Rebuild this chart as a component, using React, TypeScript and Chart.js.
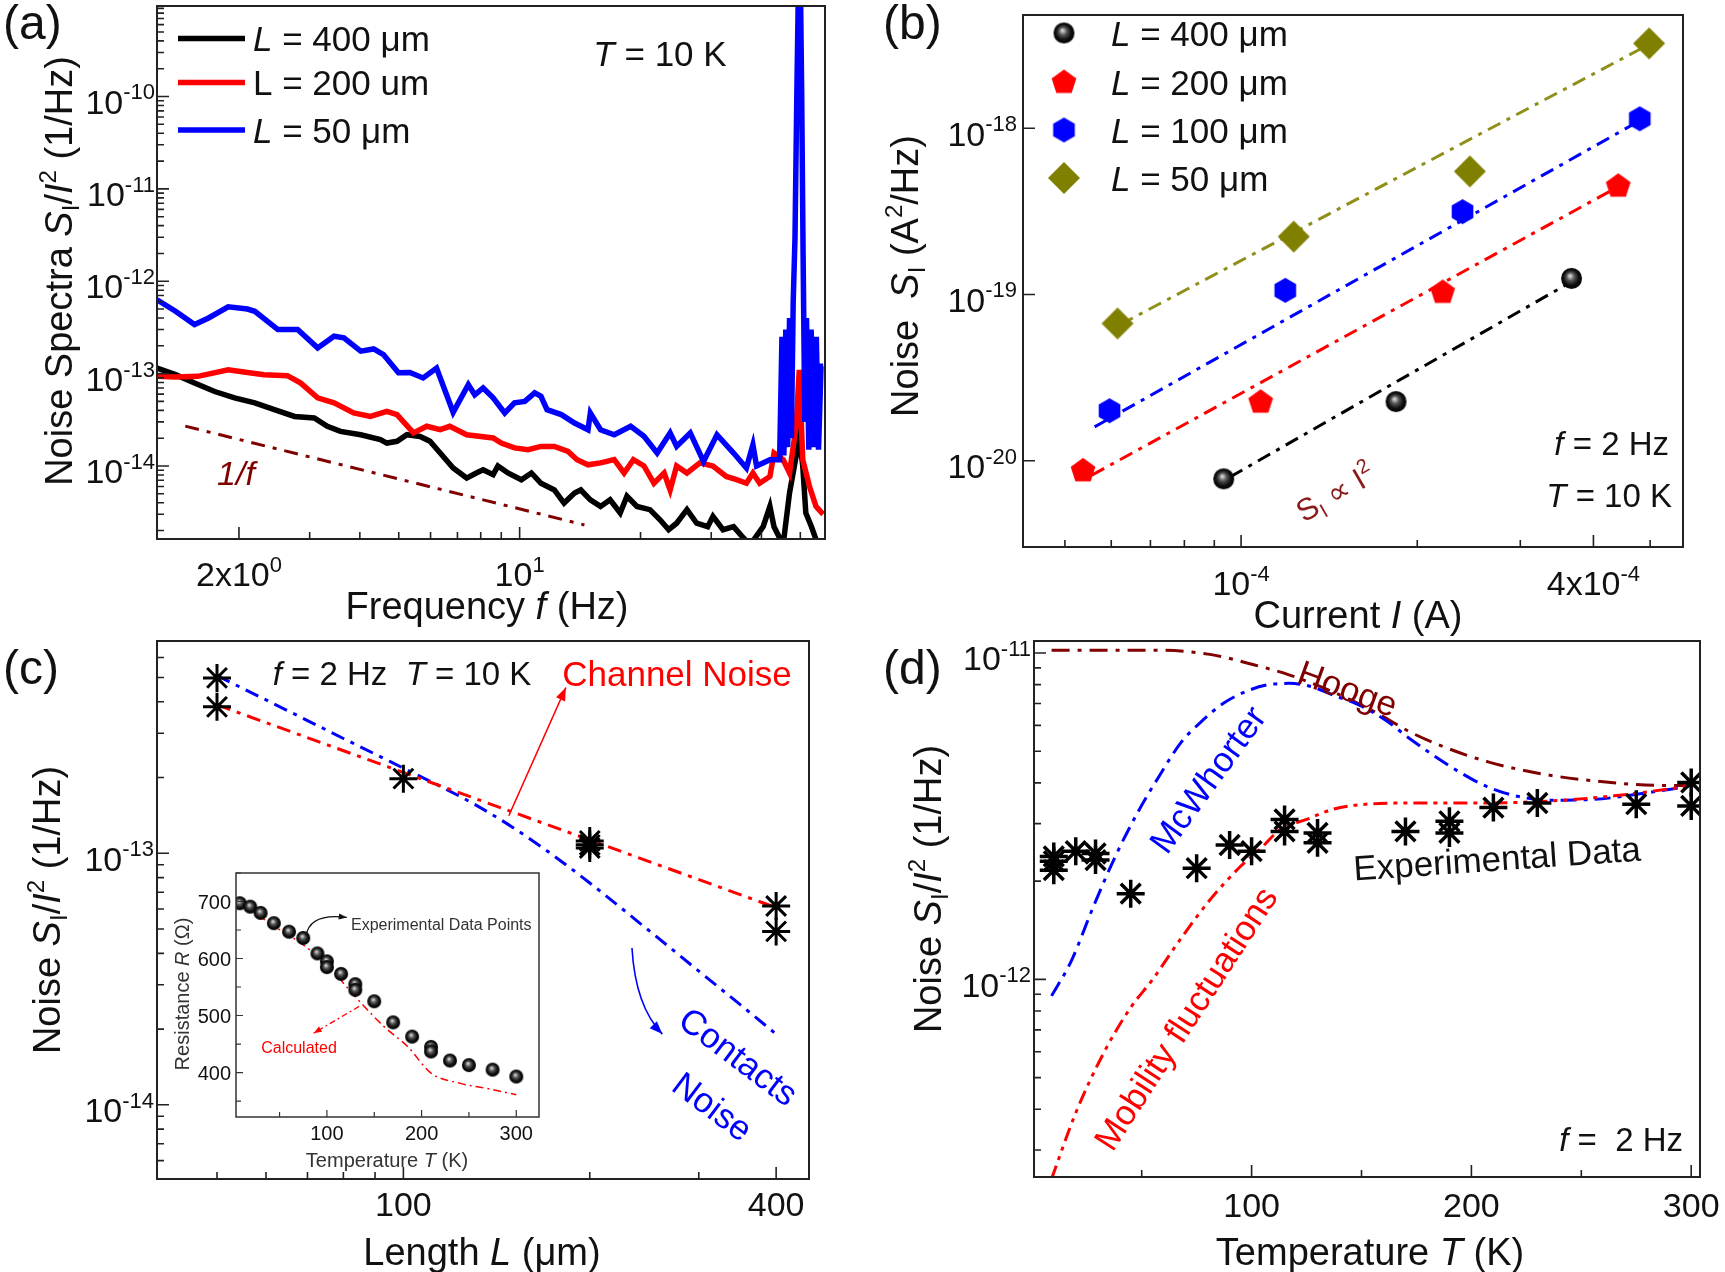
import React, { useEffect, useRef } from 'react';
import { Chart, registerables } from 'chart.js';

Chart.register(...registerables);

const W = 1725;
const H = 1272;
const FONT = '"Liberation Sans", Arial, Helvetica, sans-serif';

// ================= Panel (a): noise spectra =================
const aFreq400 = [
  1.25, 1.39, 1.55, 1.74, 1.95, 2.19, 2.45, 2.75, 3.08, 3.32,
  3.58, 4.02, 4.5, 4.67, 4.95, 5.24, 5.65, 5.98, 6.34, 6.83,
  7.38, 7.8, 8.11, 8.59, 8.83, 9.35, 10.1, 10.7, 11.3, 12.2,
  12.9, 13.7, 14.2, 15.0, 15.9, 16.8, 17.8, 18.5, 19.6, 21.1,
  22.4, 23.5, 24.6, 26.1, 27.6, 29.4, 30.3, 32.1, 34.1, 36.1,
  37.5, 40.4, 42.0, 43.0, 45.3, 47.0, 48.8, 49.7, 50.7, 51.6,
  53.3, 55.0, 57.0,
];
const aNoise400 = [
  1.15e-13, 9.75e-14, 7.9e-14, 6.4e-14, 5.46e-14, 4.82e-14, 4.07e-14, 3.44e-14, 3.31e-14, 2.69e-14,
  2.37e-14, 2.18e-14, 1.93e-14, 1.77e-14, 1.85e-14, 2.18e-14, 2.09e-14, 1.85e-14, 1.38e-14, 9.5e-15,
  7.4e-15, 8.4e-15, 9.1e-15, 8.05e-15, 1.0e-14, 8.4e-15, 7.1e-15, 8.4e-15, 6.5e-15, 5.5e-15,
  3.97e-15, 5.1e-15, 5.5e-15, 4.3e-15, 3.65e-15, 4.3e-15, 3.1e-15, 4.7e-15, 3.65e-15, 3.37e-15,
  2.6e-15, 2.04e-15, 2.4e-15, 3.37e-15, 2.4e-15, 2.2e-15, 2.85e-15, 2.04e-15, 2.2e-15, 1.66e-15,
  1.4e-15, 2.2e-15, 3.65e-15, 2.2e-15, 1.4e-15, 5.1e-15, 1.27e-14, 2.1e-14, 1.0e-14, 3.1e-15,
  2.2e-15, 1.5e-15, 1.2e-15,
];
const aFreq200 = [
  1.25, 1.39, 1.58, 1.88, 2.1, 2.31, 2.64, 2.85, 3.14, 3.45,
  3.86, 4.25, 4.67, 4.95, 5.44, 5.87, 6.34, 6.7, 7.38, 8.59,
  9.0, 9.71, 10.5, 11.3, 12.2, 13.2, 13.9, 14.8, 15.9, 17.2,
  18.2, 19.2, 20.4, 21.6, 22.9, 23.7, 24.6, 26.1, 28.1, 30.3,
  32.7, 34.7, 36.7, 38.1, 39.6, 42.0, 43.0, 45.3, 47.0, 48.8,
  49.7, 50.7, 52.7, 54.7, 57.0,
];
const aNoise200 = [
  9.35e-14, 9.2e-14, 9.35e-14, 1.1e-13, 1.03e-13, 9.75e-14, 9.5e-14, 7.9e-14, 5.46e-14, 4.82e-14,
  3.75e-14, 3.44e-14, 3.91e-14, 3.6e-14, 2.28e-14, 2.69e-14, 2.47e-14, 2.69e-14, 2.18e-14, 2.01e-14,
  1.77e-14, 1.57e-14, 1.5e-14, 1.63e-14, 1.63e-14, 1.44e-14, 1.17e-14, 1.03e-14, 1.08e-14, 1.17e-14,
  8.4e-15, 1.17e-14, 1.0e-14, 6.5e-15, 8.4e-15, 5.5e-15, 1.0e-14, 8.4e-15, 1.08e-14, 1.0e-14,
  7.7e-15, 7.1e-15, 6.5e-15, 8.4e-15, 6.5e-15, 7.7e-15, 1.38e-14, 1.17e-14, 8.4e-15, 2.69e-14,
  1.1e-13, 1.17e-14, 6.0e-15, 3.65e-15, 3.0e-15,
];
const aFreq50 = [
  1.25, 1.39, 1.55, 1.68, 1.88, 2.1, 2.19, 2.5, 2.8, 3.14,
  3.45, 3.65, 4.02, 4.33, 4.58, 4.99, 5.33, 5.75, 6.21, 6.83,
  7.45, 7.73, 8.11, 8.59, 9.18, 9.71, 10.3, 10.9, 11.3, 11.7,
  12.7, 13.7, 14.8, 15.0, 15.9, 17.2, 18.9, 20.4, 22.0, 23.7,
  24.6, 26.6, 28.7, 31.0, 34.1, 36.7, 38.1, 38.9, 42.0, 44.4,
  45.0, 45.5, 46.0, 46.5, 47.0, 47.5, 48.0, 48.5, 49.0, 49.5,
  50.0, 50.4, 50.8, 51.3, 51.8, 52.5, 53.2, 54.0, 54.8, 55.5,
  56.3, 57.0,
];
const aNoise50 = [
  6.3e-13, 4.73e-13, 3.4e-13, 4.0e-13, 5.28e-13, 5.0e-13, 4.73e-13, 3.0e-13, 3.0e-13, 1.9e-13,
  2.54e-13, 2.44e-13, 1.75e-13, 1.85e-13, 1.61e-13, 1.02e-13, 1.03e-13, 8.97e-14, 1.15e-13, 3.81e-14,
  7.6e-14, 5.9e-14, 7.0e-14, 5.46e-14, 3.75e-14, 4.82e-14, 5.0e-14, 6.18e-14, 5.68e-14, 4.07e-14,
  3.6e-14, 2.92e-14, 2.47e-14, 3.75e-14, 2.47e-14, 2.18e-14, 2.69e-14, 2.1e-14, 1.38e-14, 2.28e-14,
  1.63e-14, 2.28e-14, 1.12e-14, 2.18e-14, 1.38e-14, 9.5e-15, 1.7e-14, 1.0e-14, 1.17e-14, 1.17e-14,
  2.5e-13, 1.3e-14, 3.0e-13, 1.6e-14, 4.0e-13, 2.0e-14, 6.0e-13, 3.0e-12, 1.0e-10, 2.0e-9,
  2.0e-9, 1.0e-10, 2.0e-12, 3.0e-14, 4.0e-13, 1.5e-14, 3.0e-13, 1.6e-14, 2.5e-13, 1.5e-14,
  1.2e-13, 1.2e-13,
];
const aGuideFreq = [1.47, 14.5];
const aGuideNoise = [2.7e-14, 2.3e-15];
const aXRange = [1.25, 57.6];
const aYRange = [1.62e-15, 9.55e-10];
const aXMajor = [2, 10];
const aXMinor = [3, 4, 5, 6, 7, 8, 9, 20, 30, 40, 50];
const aXLabelVals = [2, 10];
const aXLabelTxt = [['2x10', '0'], ['10', '1']];
const aYMajor = [1e-14, 1e-13, 1e-12, 1e-11, 1e-10];
const aYLabelTxt = [['10', '-14'], ['10', '-13'], ['10', '-12'], ['10', '-11'], ['10', '-10']];

// ================= Panel (b): noise vs current =================
const bCurrent400 = [9.34e-5, 1.84e-4, 3.67e-4];
const bNoise400 = [7.79e-21, 2.27e-20, 1.25e-19];
const bCurrent200 = [5.37e-5, 1.08e-4, 2.21e-4, 4.41e-4];
const bNoise200 = [8.7e-21, 2.25e-20, 1.03e-19, 4.48e-19];
const bCurrent100 = [5.96e-5, 1.19e-4, 2.39e-4, 4.8e-4];
const bNoise100 = [2.0e-20, 1.06e-19, 3.15e-19, 1.14e-18];
const bCurrent50 = [6.15e-5, 1.23e-4, 2.46e-4, 4.98e-4];
const bNoise50 = [6.7e-20, 2.23e-19, 5.5e-19, 3.24e-18];
const bFit400I = [9.58e-5, 3.6e-4];
const bFit400S = [8.0e-21, 1.15e-19];
const bFit200I = [5.56e-5, 4.3e-4];
const bFit200S = [8.2e-21, 4.24e-19];
const bFit100I = [5.62e-5, 4.69e-4];
const bFit100S = [1.6e-20, 1.06e-18];
const bFit50I = [6.22e-5, 4.84e-4];
const bFit50S = [6.6e-20, 3.03e-18];
const bXRange = [4.24e-5, 5.69e-4];
const bYRange = [3.03e-21, 4.8e-18];
const bXMajor = [1e-4, 4e-4];
const bXMinor = [5e-5, 6e-5, 7e-5, 8e-5, 9e-5, 2e-4, 3e-4, 5e-4];
const bXLabelVals = [1e-4, 4e-4];
const bXLabelTxt = [['10', '-4'], ['4x10', '-4']];
const bYMajor = [1e-20, 1e-19, 1e-18];
const bYLabelTxt = [['10', '-20'], ['10', '-19'], ['10', '-18']];
const bLegend = ['400', '200', '100', '50'];

// ================= Panel (c): noise vs length =================
const cLength = [50, 50, 100, 200, 200, 200, 400, 400];
const cNoise = [4.98e-13, 3.82e-13, 1.98e-13, 1.12e-13, 1.08e-13, 1.05e-13, 6.17e-14, 4.89e-14];
const cChannelL = [50, 400];
const cChannelS = [3.89e-13, 6.08e-14];
const cContactL = [50, 60, 70, 80, 90, 100, 115, 130, 150, 175, 200, 250, 300, 350, 400];
const cContactS = [5.08e-13, 4.07e-13, 3.37e-13, 2.86e-13, 2.48e-13, 2.18e-13, 1.84e-13, 1.57e-13, 1.27e-13, 9.77e-14, 7.62e-14, 4.9e-14, 3.4e-14, 2.5e-14, 1.91e-14];
const cXRange = [40, 452];
const cYRange = [5.07e-15, 6.98e-13];
const cXMajor = [100, 400];
const cXMinor = [50, 60, 70, 80, 90, 200, 300];
const cXLabelVals = [100, 400];
const cXLabelTxt = ['100', '400'];
const cYMajor = [1e-14, 1e-13];
const cYLabelTxt = [['10', '-14'], ['10', '-13']];

// Inset of (c): resistance vs temperature
const insetT = [8, 19, 30, 44, 60, 75, 90, 100, 100, 115, 130, 130, 150, 170, 190, 210, 210, 230, 250, 275, 300];
const insetR = [697, 691, 680, 662, 647, 636, 609, 595, 585, 573, 555, 545, 525, 488, 463, 445, 437, 421, 413, 405, 393];
const calcT = [7, 44, 75, 100, 130, 160, 185, 210, 241, 272, 300];
const calcR = [700, 657, 624, 589, 533, 481, 446, 399, 381, 371, 361];
const iXRange = [4, 324];
const iYRange = [322, 750];
const iXTicks = [50, 100, 150, 200, 250, 300];
const iXLabelVals = [100, 200, 300];
const iYTicks = [350, 400, 450, 500, 550, 600, 650, 700, 750];
const iYLabelVals = [400, 500, 600, 700];

// ================= Panel (d): noise vs temperature =================
const dTemp = [10, 10, 10, 20, 29, 29, 45, 75, 90, 100, 115, 115, 130, 130, 170, 190, 190, 210, 230, 275, 300, 300];
const dNoise = [2.38e-12, 2.3e-12, 2.16e-12, 2.47e-12, 2.43e-12, 2.32e-12, 1.83e-12, 2.19e-12, 2.58e-12, 2.47e-12, 3.09e-12, 2.84e-12, 2.81e-12, 2.62e-12, 2.84e-12, 3.05e-12, 2.81e-12, 3.36e-12, 3.47e-12, 3.44e-12, 4.01e-12, 3.4e-12];
const hoogeT = [9, 30, 57, 81, 101, 117, 137, 156, 172, 188, 208, 232, 255, 279, 301];
const hoogeS = [1.02e-11, 1.02e-11, 1.02e-11, 9.9e-12, 9.2e-12, 8.57e-12, 7.6e-12, 6.6e-12, 5.73e-12, 5.14e-12, 4.63e-12, 4.26e-12, 4.06e-12, 3.94e-12, 3.92e-12];
const mcwT = [9, 18, 28, 38, 48, 58, 68, 77, 87, 97, 107, 117, 127, 137, 149, 161, 172, 184, 196, 208, 220, 236, 256, 275, 301];
const mcwS = [8.9e-13, 1.14e-12, 1.67e-12, 2.38e-12, 3.23e-12, 4.2e-12, 5.33e-12, 6.15e-12, 7.0e-12, 7.6e-12, 7.98e-12, 8.07e-12, 7.89e-12, 7.43e-12, 6.92e-12, 6.22e-12, 5.46e-12, 4.79e-12, 4.26e-12, 3.87e-12, 3.65e-12, 3.54e-12, 3.56e-12, 3.69e-12, 3.92e-12];
const mobT = [9, 20, 33, 45, 55, 67, 81, 95, 105, 113, 125, 137, 152, 176, 206, 236, 265, 301];
const mobS = [2.45e-13, 3.9e-13, 6.0e-13, 8.2e-13, 1.0e-12, 1.31e-12, 1.75e-12, 2.22e-12, 2.55e-12, 2.88e-12, 3.09e-12, 3.32e-12, 3.44e-12, 3.47e-12, 3.47e-12, 3.52e-12, 3.65e-12, 3.92e-12];
const dXRange = [1, 304];
const dYRange = [2.48e-13, 1.088e-11];
const dXMajor = [100, 200, 300];
const dXMinor = [50, 150, 250];
const dXLabelTxt = ['100', '200', '300'];
const dYMajor = [1e-12, 1e-11];
const dYLabelTxt = [['10', '-12'], ['10', '-11']];

// ================= colours =================
const BLUE = '#0000ff';
const RED = '#ff0000';
const BLACK = '#000000';
const OLIVE = '#808000';
const OLIVE_LINE = '#8f8f1a';
const MAROON = '#800000';
const AXIS = '#222222';

// ================= helpers =================
const pts = (xs: number[], ys: number[]) => xs.map((x, i) => ({ x, y: ys[i] }));

function logMinor(lo: number, hi: number) {
  const out: number[] = [];
  for (let e = Math.floor(Math.log10(lo)) - 1; e <= Math.ceil(Math.log10(hi)); e++) {
    for (let m = 2; m <= 9; m++) {
      const v = m * Math.pow(10, e);
      if (v >= lo && v <= hi) out.push(v);
    }
  }
  return out;
}

type Seg = { t: string; it?: boolean; sup?: boolean; sub?: boolean; color?: string };

function drawRich(ctx: CanvasRenderingContext2D, segs: Seg[], x: number, y: number, size: number, opts: any = {}) {
  const family = opts.family || FONT;
  const align = opts.align || 'left';
  ctx.save();
  ctx.translate(x, y);
  if (opts.rot) ctx.rotate((opts.rot * Math.PI) / 180);
  const fonts = segs.map((s) => `${s.it ? 'italic ' : ''}${s.sup || s.sub ? Math.round(size * 0.64) : size}px ${family}`);
  const widths = segs.map((s, i) => {
    ctx.font = fonts[i];
    return ctx.measureText(s.t).width;
  });
  const total = widths.reduce((a, b) => a + b, 0);
  let cx = align === 'center' ? -total / 2 : align === 'right' ? -total : 0;
  ctx.textAlign = 'left';
  ctx.textBaseline = 'alphabetic';
  const base = size * 0.36;
  segs.forEach((s, i) => {
    ctx.font = fonts[i];
    ctx.fillStyle = s.color || opts.color || '#111';
    const dy = s.sup ? base - size * 0.42 : s.sub ? base + size * 0.2 : base;
    ctx.fillText(s.t, cx, dy);
    cx += widths[i];
  });
  ctx.restore();
}

const sup = (a: string, b: string): Seg[] => [{ t: a }, { t: b, sup: true }];

function drawArrow(ctx: CanvasRenderingContext2D, x1: number, y1: number, x2: number, y2: number, o: any) {
  ctx.save();
  ctx.strokeStyle = o.color;
  ctx.fillStyle = o.color;
  ctx.lineWidth = o.width || 1.5;
  ctx.setLineDash(o.dash || []);
  ctx.beginPath();
  ctx.moveTo(x1, y1);
  let fx = x1;
  let fy = y1;
  if (o.cx !== undefined) {
    ctx.quadraticCurveTo(o.cx, o.cy, x2, y2);
    fx = o.cx;
    fy = o.cy;
  } else {
    ctx.lineTo(x2, y2);
  }
  ctx.stroke();
  ctx.setLineDash([]);
  const ang = Math.atan2(y2 - fy, x2 - fx);
  const h = o.head || 12;
  const hw = h * 0.38;
  ctx.beginPath();
  ctx.moveTo(x2, y2);
  ctx.lineTo(x2 - h * Math.cos(ang) + hw * Math.sin(ang), y2 - h * Math.sin(ang) - hw * Math.cos(ang));
  ctx.lineTo(x2 - h * Math.cos(ang) - hw * Math.sin(ang), y2 - h * Math.sin(ang) + hw * Math.cos(ang));
  ctx.closePath();
  ctx.fill();
  ctx.restore();
}

function px(chart: any, x: number, y: number) {
  return [chart.scales.x.getPixelForValue(x), chart.scales.y.getPixelForValue(y)];
}

function drawAxes(chart: any, cfg: any) {
  const { ctx, chartArea: a, scales } = chart;
  const xs = scales.x;
  const ys = scales.y;
  ctx.save();
  ctx.strokeStyle = cfg.color || AXIS;
  ctx.lineWidth = cfg.frameW;
  ctx.strokeRect(a.left, a.top, a.right - a.left, a.bottom - a.top);
  ctx.lineWidth = cfg.tickW;
  ctx.beginPath();
  const xt = (list: number[], len: number) =>
    list.forEach((v) => {
      const p = xs.getPixelForValue(v);
      if (p < a.left - 0.5 || p > a.right + 0.5) return;
      ctx.moveTo(p, a.bottom);
      ctx.lineTo(p, a.bottom - len);
    });
  const yt = (list: number[], len: number) =>
    list.forEach((v) => {
      const p = ys.getPixelForValue(v);
      if (p < a.top - 0.5 || p > a.bottom + 0.5) return;
      ctx.moveTo(a.left, p);
      ctx.lineTo(a.left + len, p);
    });
  xt(cfg.xMinor, cfg.minorLen);
  xt(cfg.xMajor, cfg.majorLen);
  yt(cfg.yMinor, cfg.minorLen);
  yt(cfg.yMajor, cfg.majorLen);
  ctx.stroke();
  cfg.xLabels.forEach(([v, segs]: any) => drawRich(ctx, segs, xs.getPixelForValue(v), a.bottom + cfg.xLabelDy, cfg.labelSize, { align: 'center' }));
  cfg.yLabels.forEach(([v, segs]: any) => drawRich(ctx, segs, a.left - cfg.yLabelDx, ys.getPixelForValue(v) + cfg.yLabelDy, cfg.labelSize, { align: 'right' }));
  ctx.restore();
}

// marker images
function makeCanvas(size: number) {
  const c = document.createElement('canvas');
  c.width = size;
  c.height = size;
  return c;
}
function makeBall(d: number) {
  const c = makeCanvas(d + 2);
  const g = c.getContext('2d')!;
  const r = d / 2;
  const cx = r + 1;
  const grad = g.createRadialGradient(cx - r * 0.15, cx - r * 0.25, r * 0.05, cx, cx, r);
  grad.addColorStop(0, '#d8d8d8');
  grad.addColorStop(0.35, '#555');
  grad.addColorStop(0.7, '#111');
  grad.addColorStop(1, '#000');
  g.fillStyle = grad;
  g.beginPath();
  g.arc(cx, cx, r, 0, Math.PI * 2);
  g.fill();
  return c;
}
function makePoly(n: number, d: number, color: string, rot: number) {
  const c = makeCanvas(d + 2);
  const g = c.getContext('2d')!;
  const r = d / 2;
  const cx = r + 1;
  g.fillStyle = color;
  g.beginPath();
  for (let i = 0; i < n; i++) {
    const an = rot + (i * 2 * Math.PI) / n;
    const x = cx + r * Math.cos(an);
    const y = cx + r * Math.sin(an);
    if (i === 0) g.moveTo(x, y);
    else g.lineTo(x, y);
  }
  g.closePath();
  g.fill();
  return c;
}

function lineDs(xs: number[], ys: number[], color: string, width: number, dash: number[], smooth = false) {
  return {
    data: pts(xs, ys),
    showLine: true,
    borderColor: color,
    backgroundColor: color,
    borderWidth: width,
    borderDash: dash,
    pointRadius: 0,
    fill: false,
    tension: smooth ? 0.4 : 0,
    cubicInterpolationMode: smooth ? 'monotone' : 'default',
  };
}
function markDs(xs: number[], ys: number[], style: any, radius: number, color = BLACK, bw = 0) {
  return {
    data: pts(xs, ys),
    showLine: false,
    pointStyle: style,
    pointRadius: radius,
    pointBorderWidth: bw,
    pointBorderColor: color,
    pointBackgroundColor: color,
    borderColor: color,
    backgroundColor: color,
  };
}

function buildChart(canvas: HTMLCanvasElement, area: number[], xs: any, ys: any, datasets: any[], decor: (c: any) => void) {
  return new Chart(canvas, {
    type: 'scatter',
    data: { datasets },
    options: {
      animation: false,
      responsive: false,
      maintainAspectRatio: false,
      devicePixelRatio: 1,
      events: [],
      layout: { padding: { left: area[0], top: area[1], right: W - area[2], bottom: H - area[3] } },
      plugins: { legend: { display: false }, tooltip: { enabled: false }, title: { display: false } },
      scales: { x: { ...xs, display: false }, y: { ...ys, display: false } },
    } as any,
    plugins: [{ id: 'decor', afterDraw: (c: any) => decor(c) }],
  } as any);
}

const TITLE = 38;
const TICK = 34;
const LEG = 35;
const PANEL = 48;

// ================= builders =================
function buildA(canvas: HTMLCanvasElement) {
  const decor = (chart: any) => {
    const ctx = chart.ctx;
    drawAxes(chart, {
      frameW: 2, tickW: 1.6, majorLen: 12, minorLen: 7,
      xMajor: aXMajor, xMinor: aXMinor,
      yMajor: aYMajor, yMinor: logMinor(aYRange[0], aYRange[1]),
      xLabels: aXLabelVals.map((v, i) => [v, sup(aXLabelTxt[i][0], aXLabelTxt[i][1])]),
      yLabels: aYMajor.map((v, i) => [v, sup(aYLabelTxt[i][0], aYLabelTxt[i][1])]),
      xLabelDy: 35, yLabelDx: 2, yLabelDy: 5, labelSize: TICK,
    });
    drawRich(ctx, [{ t: 'Frequency ' }, { t: 'f', it: true }, { t: ' (Hz)' }], 487, 605, TITLE, { align: 'center' });
    drawRich(ctx, [{ t: 'Noise Spectra ' }, { t: 'S', it: true }, { t: 'I', sub: true }, { t: '/' }, { t: 'I', it: true }, { t: '2', sup: true }, { t: ' (1/Hz)' }], 58, 271, TITLE, { align: 'center', rot: -90 });
    drawRich(ctx, [{ t: '(a)' }], 3, 22, PANEL);
    const leg = [
      { c: BLACK, s: [{ t: 'L', it: true }, { t: ' = 400 μm' }], y: 38.5 },
      { c: RED, s: [{ t: 'L = 200 um' }], y: 82.5 },
      { c: BLUE, s: [{ t: 'L', it: true }, { t: ' = 50 μm' }], y: 130 },
    ];
    ctx.save();
    leg.forEach((l) => {
      ctx.strokeStyle = l.c;
      ctx.lineWidth = 5.5;
      ctx.beginPath();
      ctx.moveTo(178, l.y);
      ctx.lineTo(245, l.y);
      ctx.stroke();
      drawRich(ctx, l.s as Seg[], 253, l.y, LEG);
    });
    ctx.restore();
    drawRich(ctx, [{ t: 'T', it: true }, { t: ' = 10 K' }], 660, 53, LEG, { align: 'center' });
    drawRich(ctx, [{ t: '1/f', it: true }], 236, 473, 34, { align: 'center', color: MAROON });
  };
  return buildChart(
    canvas,
    [157, 6, 825, 539],
    { type: 'logarithmic', min: aXRange[0], max: aXRange[1] },
    { type: 'logarithmic', min: aYRange[0], max: aYRange[1] },
    [
      lineDs(aFreq50, aNoise50, BLUE, 5.5, []),
      lineDs(aFreq200, aNoise200, RED, 5.5, []),
      lineDs(aFreq400, aNoise400, BLACK, 5.5, []),
      lineDs(aGuideFreq, aGuideNoise, MAROON, 3, [14, 8, 4, 8]),
    ],
    decor
  );
}

function buildB(canvas: HTMLCanvasElement, marks: any) {
  const decor = (chart: any) => {
    const ctx = chart.ctx;
    drawAxes(chart, {
      frameW: 2, tickW: 1.6, majorLen: 12, minorLen: 7,
      xMajor: bXMajor, xMinor: bXMinor,
      yMajor: bYMajor, yMinor: [],
      xLabels: bXLabelVals.map((v, i) => [v, sup(bXLabelTxt[i][0], bXLabelTxt[i][1])]),
      yLabels: bYMajor.map((v, i) => [v, sup(bYLabelTxt[i][0], bYLabelTxt[i][1])]),
      xLabelDy: 36, yLabelDx: 6, yLabelDy: 5, labelSize: TICK,
    });
    drawRich(ctx, [{ t: 'Current ' }, { t: 'I', it: true }, { t: ' (A)' }], 1358, 614, TITLE, { align: 'center' });
    drawRich(ctx, [{ t: 'Noise  ' }, { t: 'S', it: true }, { t: 'I', sub: true }, { t: ' (A' }, { t: '2', sup: true }, { t: '/Hz)' }], 904, 276, TITLE, { align: 'center', rot: -90 });
    drawRich(ctx, [{ t: '(b)' }], 883, 22, PANEL);
    const imgs = [marks.ball, marks.pent, marks.hex, marks.diam];
    const ys = [33, 82.5, 130, 178];
    imgs.forEach((im: any, i: number) => {
      ctx.drawImage(im, 1064 - im.width / 2, ys[i] - im.height / 2);
      drawRich(ctx, [{ t: 'L', it: true }, { t: ` = ${bLegend[i]} μm` }], 1111, ys[i], LEG);
    });
    drawRich(ctx, [{ t: 'f', it: true }, { t: ' = 2 Hz' }], 1669, 443, 33, { align: 'right' });
    drawRich(ctx, [{ t: 'T', it: true }, { t: ' = 10 K' }], 1672, 495, 33, { align: 'right' });
    drawRich(ctx, [{ t: 'S' }, { t: 'I', sub: true }, { t: ' ∝ ' }, { t: 'I' }, { t: '2', sup: true }], 1335, 492, 31, { align: 'center', rot: -30, color: '#8b1a1a' });
  };
  const dash = [14, 7, 4, 7];
  return buildChart(
    canvas,
    [1023, 6, 1683, 547],
    { type: 'logarithmic', min: bXRange[0], max: bXRange[1] },
    { type: 'logarithmic', min: bYRange[0], max: bYRange[1] },
    [
      markDs(bCurrent400, bNoise400, marks.ball, 10),
      markDs(bCurrent200, bNoise200, marks.pent, 13, RED),
      markDs(bCurrent100, bNoise100, marks.hex, 13, BLUE),
      markDs(bCurrent50, bNoise50, marks.diam, 15, OLIVE),
      lineDs(bFit400I, bFit400S, BLACK, 3, dash),
      lineDs(bFit200I, bFit200S, RED, 3, dash),
      lineDs(bFit100I, bFit100S, BLUE, 3, dash),
      lineDs(bFit50I, bFit50S, OLIVE_LINE, 3, dash),
    ],
    decor
  );
}

function buildC(canvas: HTMLCanvasElement) {
  const decor = (chart: any) => {
    const ctx = chart.ctx;
    drawAxes(chart, {
      frameW: 2, tickW: 1.6, majorLen: 12, minorLen: 7,
      xMajor: cXMajor, xMinor: cXMinor,
      yMajor: cYMajor, yMinor: logMinor(cYRange[0], cYRange[1]),
      xLabels: cXLabelVals.map((v, i) => [v, [{ t: cXLabelTxt[i] }]]),
      yLabels: cYMajor.map((v, i) => [v, sup(cYLabelTxt[i][0], cYLabelTxt[i][1])]),
      xLabelDy: 25, yLabelDx: 3, yLabelDy: 5, labelSize: TICK,
    });
    drawRich(ctx, [{ t: 'Length ' }, { t: 'L', it: true }, { t: ' (μm)' }], 482, 1251, TITLE, { align: 'center' });
    drawRich(ctx, [{ t: 'Noise ' }, { t: 'S', it: true }, { t: 'I', sub: true }, { t: '/' }, { t: 'I', it: true }, { t: '2', sup: true }, { t: ' (1/Hz)' }], 46, 910, TITLE, { align: 'center', rot: -90 });
    drawRich(ctx, [{ t: '(c)' }], 3, 667, PANEL);
    drawRich(ctx, [{ t: 'f', it: true }, { t: ' = 2 Hz  ' }, { t: 'T', it: true }, { t: ' = 10 K' }], 402, 673, 33, { align: 'center' });
    drawRich(ctx, [{ t: 'Channel Noise' }], 677, 673, LEG, { align: 'center', color: RED });
    drawRich(ctx, [{ t: 'Contacts' }], 739, 1056, LEG, { align: 'center', color: BLUE, rot: 37 });
    drawRich(ctx, [{ t: 'Noise' }], 713, 1106, LEG, { align: 'center', color: BLUE, rot: 37 });
    const [r1x, r1y] = px(chart, 148, 1.41e-13);
    const [r2x, r2y] = px(chart, 183, 4.56e-13);
    drawArrow(ctx, r1x, r1y, r2x, r2y, { color: RED, width: 1.6, head: 13 });
    const [b1x, b1y] = px(chart, 234, 4.2e-14);
    const [bcx, bcy] = px(chart, 237, 2.46e-14);
    const [b2x, b2y] = px(chart, 262, 1.91e-14);
    drawArrow(ctx, b1x, b1y, b2x, b2y, { color: BLUE, width: 1.6, head: 13, cx: bcx, cy: bcy });
  };
  const dash = [14, 7, 4, 7];
  return buildChart(
    canvas,
    [157, 641, 809, 1179],
    { type: 'logarithmic', min: cXRange[0], max: cXRange[1] },
    { type: 'logarithmic', min: cYRange[0], max: cYRange[1] },
    [
      markDs(cLength, cNoise, 'star', 14, BLACK, 3),
      lineDs(cChannelL, cChannelS, RED, 3, dash),
      lineDs(cContactL, cContactS, BLUE, 3, dash, true),
    ],
    decor
  );
}

function buildInset(canvas: HTMLCanvasElement, ball: any) {
  const decor = (chart: any) => {
    const ctx = chart.ctx;
    drawAxes(chart, {
      frameW: 1.5, tickW: 1.2, majorLen: 7, minorLen: 5, color: '#333',
      xMajor: iXLabelVals, xMinor: iXTicks,
      yMajor: iYLabelVals, yMinor: iYTicks,
      xLabels: iXLabelVals.map((v) => [v, [{ t: String(v) }]]),
      yLabels: iYLabelVals.map((v) => [v, [{ t: String(v) }]]),
      xLabelDy: 16, yLabelDx: 5, yLabelDy: 0, labelSize: 20,
    });
    drawRich(ctx, [{ t: 'Temperature ' }, { t: 'T', it: true }, { t: ' (K)' }], 387, 1160, 20, { align: 'center', color: '#333' });
    drawRich(ctx, [{ t: 'Resistance ' }, { t: 'R', it: true }, { t: ' (Ω)' }], 182, 994, 20, { align: 'center', rot: -90, color: '#333' });
    drawRich(ctx, [{ t: 'Experimental Data Points' }], 351, 924, 16, { color: '#333' });
    drawRich(ctx, [{ t: 'Calculated' }], 299, 1047, 16, { align: 'center', color: RED });
    const [a1x, a1y] = px(chart, 78, 640);
    const [acx, acy] = px(chart, 82, 680);
    const [a2x, a2y] = px(chart, 121, 672);
    drawArrow(ctx, a1x, a1y, a2x, a2y, { color: '#111', width: 1.3, head: 8, cx: acx, cy: acy });
    const [c1x, c1y] = px(chart, 134, 516);
    const [c2x, c2y] = px(chart, 86, 469);
    drawArrow(ctx, c1x, c1y, c2x, c2y, { color: RED, width: 1.3, head: 8, dash: [6, 3, 2, 3] });
  };
  return buildChart(
    canvas,
    [236, 873, 539, 1117],
    { type: 'linear', min: iXRange[0], max: iXRange[1] },
    { type: 'linear', min: iYRange[0], max: iYRange[1] },
    [
      markDs(insetT, insetR, ball, 7),
      lineDs(calcT, calcR, RED, 1.5, [8, 4, 2, 4], true),
    ],
    decor
  );
}

function buildD(canvas: HTMLCanvasElement) {
  const decor = (chart: any) => {
    const ctx = chart.ctx;
    drawAxes(chart, {
      frameW: 2, tickW: 1.6, majorLen: 12, minorLen: 7,
      xMajor: dXMajor, xMinor: dXMinor,
      yMajor: dYMajor, yMinor: logMinor(dYRange[0], dYRange[1]),
      xLabels: dXMajor.map((v, i) => [v, [{ t: dXLabelTxt[i] }]]),
      yLabels: dYMajor.map((v, i) => [v, sup(dYLabelTxt[i][0], dYLabelTxt[i][1])]),
      xLabelDy: 28, yLabelDx: 3, yLabelDy: 5, labelSize: TICK,
    });
    drawRich(ctx, [{ t: 'Temperature ' }, { t: 'T', it: true }, { t: ' (K)' }], 1370, 1251, TITLE, { align: 'center' });
    drawRich(ctx, [{ t: 'Noise ' }, { t: 'S', it: true }, { t: 'I', sub: true }, { t: '/' }, { t: 'I', it: true }, { t: '2', sup: true }, { t: ' (1/Hz)' }], 927, 889, TITLE, { align: 'center', rot: -90 });
    drawRich(ctx, [{ t: '(d)' }], 883, 667, PANEL);
    drawRich(ctx, [{ t: 'Hooge' }], 1348, 688, LEG, { align: 'center', rot: 20, color: MAROON });
    drawRich(ctx, [{ t: 'McWhorter' }], 1207, 779, LEG, { align: 'center', rot: -54, color: BLUE });
    drawRich(ctx, [{ t: 'Mobility fluctuations' }], 1185, 1018, LEG, { align: 'center', rot: -57, color: RED });
    drawRich(ctx, [{ t: 'Experimental Data' }], 1497, 858, LEG, { align: 'center', rot: -4, color: '#111' });
    drawRich(ctx, [{ t: 'f', it: true }, { t: ' =  2 Hz' }], 1683, 1139, 33, { align: 'right' });
  };
  return buildChart(
    canvas,
    [1034, 641, 1700, 1177],
    { type: 'linear', min: dXRange[0], max: dXRange[1] },
    { type: 'logarithmic', min: dYRange[0], max: dYRange[1] },
    [
      markDs(dTemp, dNoise, 'star', 14, BLACK, 3.5),
      lineDs(mobT, mobS, RED, 3, [14, 6, 4, 6, 4, 6], true),
      lineDs(mcwT, mcwS, BLUE, 3, [16, 7, 4, 7], true),
      lineDs(hoogeT, hoogeS, MAROON, 3, [18, 8, 4, 8], true),
    ],
    decor
  );
}

export default function App() {
  const refA = useRef<HTMLCanvasElement>(null);
  const refB = useRef<HTMLCanvasElement>(null);
  const refC = useRef<HTMLCanvasElement>(null);
  const refD = useRef<HTMLCanvasElement>(null);
  const refI = useRef<HTMLCanvasElement>(null);

  useEffect(() => {
    const marks = {
      ball: makeBall(21),
      pent: makePoly(5, 26, RED, -Math.PI / 2),
      hex: makePoly(6, 25, BLUE, Math.PI / 2),
      diam: makePoly(4, 32, OLIVE, 0),
    };
    const insetBall = makeBall(14);
    const charts = [
      buildA(refA.current!),
      buildB(refB.current!, marks),
      buildC(refC.current!),
      buildD(refD.current!),
      buildInset(refI.current!, insetBall),
    ];
    return () => charts.forEach((c) => c.destroy());
  }, []);

  const style: React.CSSProperties = { position: 'absolute', left: 0, top: 0, width: W, height: H };
  return (
    <div style={{ position: 'absolute', left: 0, top: 0, width: W, height: H, background: '#ffffff', overflow: 'hidden' }}>
      <canvas ref={refA} width={W} height={H} style={style} />
      <canvas ref={refB} width={W} height={H} style={style} />
      <canvas ref={refC} width={W} height={H} style={style} />
      <canvas ref={refD} width={W} height={H} style={style} />
      <canvas ref={refI} width={W} height={H} style={style} />
    </div>
  );
}
